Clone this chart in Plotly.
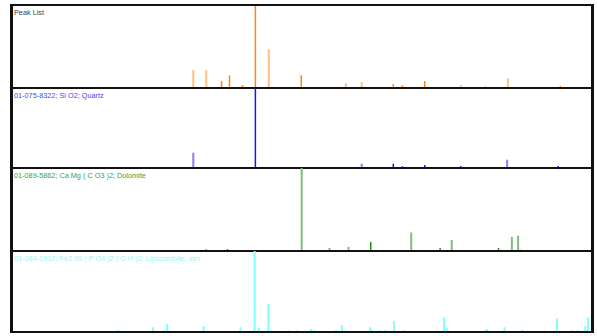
import plotly.graph_objects as go
from plotly.subplots import make_subplots

# ---- data (2-theta in degrees, relative intensity %) ----
panel_labels = [
    "Peak List",
    "01-075-8322; Si O2; Quartz",
    "01-089-5862; Ca Mg ( C O3 )2; Dolomite",
    "01-084-1912; Fe2.95 ( P O4 )2 ( O H )2; Lipscombite, syn",
]

peak_pos = [20.88, 22.09, 23.51, 24.25, 25.46, 26.66, 27.91, 30.93, 35.08, 36.56,
            39.50, 40.34, 42.43, 45.81, 48.09, 50.17, 55.05]
peak_int = [21.7, 21.7, 8.4, 15.3, 3.6, 100, 46.6, 15.3, 6.0, 7.2,
            4.8, 3.3, 8.4, 3.3, 2.4, 11.7, 2.4]
peak_style = ["L", "L", "D", "D", "D", "D", "L", "D", "L", "L",
              "D", "D", "D", "L", "L", "L", "D"]

quartz_pos = [20.88, 26.66, 36.56, 39.50, 40.34, 42.43, 45.77, 50.10, 54.86, 55.33, 57.27]
quartz_int = [19.1, 100, 5.4, 5.4, 2.2, 3.8, 2.5, 10.4, 2.5, 1.2, 1.0]
quartz_style = ["L", "D", "L", "D", "D", "D", "D", "L", "D", "D", "D"]

dolo_pos = [16.59, 22.06, 24.06, 30.97, 33.56, 35.33, 37.40, 41.17, 43.86, 44.94,
            49.30, 50.54, 51.12, 51.34, 52.33]
dolo_int = [1.0, 2.4, 2.4, 100, 3.7, 4.9, 11.0, 22.3, 3.7, 13.4,
            3.7, 17.0, 18.3, 1.5, 1.0]
dolo_style = ["L", "L", "D", "L", "L", "L", "D", "L", "D", "L",
              "D", "L", "L", "D", "D"]

lips_pos = [13.86, 17.14, 18.13, 18.44, 21.84, 23.60, 24.34, 25.27, 26.59, 26.98,
            27.26, 27.87, 28.05, 29.72, 30.50, 31.83, 32.14, 34.18, 34.73, 35.38,
            36.16, 36.65, 37.33, 37.52, 38.29, 38.79, 39.56, 40.48, 41.36, 42.22,
            42.90, 44.23, 44.47, 45.31, 46.98, 48.09, 48.22, 49.36, 49.85, 50.08,
            50.47, 50.94, 51.52, 52.08, 52.70, 53.19, 53.42, 54.74, 55.70, 56.16,
            56.63, 57.37, 57.62]
lips_int = [2.5, 6.0, 2.5, 10.0, 7.4, 1.2, 1.2, 6.0, 100, 5.0,
            1.5, 34.5, 2.5, 1.5, 1.5, 3.7, 2.5, 2.5, 8.6, 1.2,
            1.2, 1.2, 6.0, 2.5, 2.0, 2.5, 13.5, 1.5, 1.2, 1.2,
            1.2, 17.8, 5.0, 1.2, 1.2, 2.5, 3.7, 1.2, 6.0, 1.2,
            1.2, 1.2, 2.5, 1.2, 1.2, 1.2, 1.2, 16.6, 1.2, 1.5,
            1.5, 7.4, 17.8]
lips_style = ["L", "L", "L", "L", "L", "D", "D", "L", "L", "L",
              "D", "L", "L", "D", "D", "L", "L", "L", "L", "D",
              "D", "D", "L", "L", "L", "L", "L", "D", "D", "D",
              "D", "L", "L", "D", "D", "L", "L", "D", "L", "D",
              "D", "D", "L", "D", "D", "D", "D", "L", "D", "D",
              "D", "L", "L"]

series = [
    (peak_pos, peak_int, peak_style, "rgb(255,135,10)", "rgb(255,192,128)", "#404040"),
    (quartz_pos, quartz_int, quartz_style, "rgb(20,20,255)", "rgb(128,128,255)", "#4646ff"),
    (dolo_pos, dolo_int, dolo_style, "rgb(20,150,20)", "rgb(125,190,125)", "#3ca03c"),
    (lips_pos, lips_int, lips_style, "rgb(0,200,200)", "rgb(128,255,255)", "#a0f4f4"),
]

domains = [[0.746, 1.0], [0.5015, 0.746], [0.2477, 0.5015], [0.0, 0.2477]]

fig = make_subplots(rows=4, cols=1, shared_xaxes=True, vertical_spacing=0)


def segs(pos, inten, style, want):
    xs, ys = [], []
    for p, h, s in zip(pos, inten, style):
        if s == want:
            xs += [p, p, None]
            ys += [0, h, None]
    return xs, ys


for i, (pos, inten, style, dark, light, lab) in enumerate(series, start=1):
    xl, yl = segs(pos, inten, style, "L")
    xd, yd = segs(pos, inten, style, "D")
    fig.add_trace(go.Scatter(x=xl, y=yl, mode="lines", line=dict(color=light, width=2),
                             hoverinfo="skip", showlegend=False), row=i, col=1)
    fig.add_trace(go.Scatter(x=xd, y=yd, mode="lines", line=dict(color=dark, width=1.5),
                             hoverinfo="skip", showlegend=False), row=i, col=1)
    fig.update_yaxes(range=[0, 100], domain=domains[i - 1], showticklabels=False, ticks="",
                     showgrid=False, zeroline=False, showline=True, mirror=True,
                     linecolor="#111", linewidth=1.5, row=i, col=1)
    fig.update_xaxes(range=[4, 58], showticklabels=False, ticks="", showgrid=False,
                     zeroline=False, showline=True, mirror=True, linecolor="#111",
                     linewidth=1, row=i, col=1)
    sfx = "" if i == 1 else str(i)
    fig.add_annotation(text=panel_labels[i - 1], xref=f"x{sfx} domain", yref=f"y{sfx} domain",
                       x=0, y=1, xanchor="left", yanchor="top", xshift=0, yshift=-1,
                       showarrow=False, font=dict(family="Liberation Sans", size=7.3, color=lab))

# outer frame
fig.add_shape(type="rect", xref="paper", yref="paper", x0=0, x1=1, y0=0, y1=1,
              line=dict(color="#111", width=2), fillcolor="rgba(0,0,0,0)")

fig.update_layout(width=597, height=336, margin=dict(l=12, r=3, t=5, b=4),
                  paper_bgcolor="white", plot_bgcolor="white")
fig.write_html("out.html")
